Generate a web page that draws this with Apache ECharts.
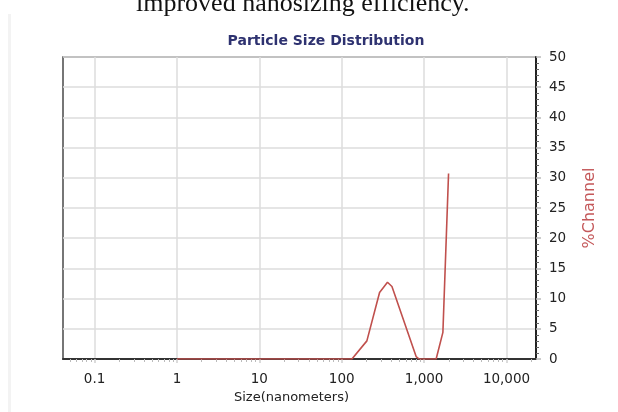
<!DOCTYPE html>
<html>
<head>
<meta charset="utf-8">
<script src="https://cdn.jsdelivr.net/npm/echarts@6/dist/echarts.min.js"></script>
<style>
  html, body { margin: 0; padding: 0; background: #fff; }
  #chart { width: 618px; height: 412px; }
</style>
</head>
<body>
<div id="chart"></div>
<script>
// Particle sizes (nm) and the percentage of particles in each channel
const sizesNm    = [1, 133, 202, 288, 359, 407, 800, 870, 1400, 1690, 1980];
const channelPct = [0, 0,   3.0, 11.0, 12.7, 12.0, 0.4, 0,  0,    4.4,  30.7];

// Decade ticks on the size axis
const tickSizes  = [0.1, 1, 10, 100, 1000, 10000];
const tickLabels = ['0.1', '1', '10', '100', '1,000', '10,000'];

// %Channel axis range
const pctMin = 0, pctMax = 50, pctStep = 5;

// Size axis is drawn in log10 space
const logMin = -1.383, logMax = 4.358;
const tickLogs = tickSizes.map(v => Math.log10(v));
const labelByLog = {};
tickLogs.forEach((l, i) => { labelByLog[l.toFixed(4)] = tickLabels[i]; });

// Minor ticks at 2..9 of every decade inside the visible range
const minorLogs = [];
for (let d = -2; d <= 4; d++) {
  for (let k = 2; k <= 9; k++) {
    const l = Math.log10(k * Math.pow(10, d));
    if (l > logMin && l < logMax) minorLogs.push(l);
  }
}

const points = sizesNm.map((s, i) => [Math.log10(s), channelPct[i]]);

const font = 'DejaVu Sans, Verdana, sans-serif';
const chart = echarts.init(document.getElementById('chart'), null, { renderer: 'canvas' });

chart.setOption({
  backgroundColor: '#fff',
  animation: false,
  title: {
    text: 'Particle Size Distribution',
    left: 321,
    top: 29,
    textAlign: 'center',
    textStyle: { fontFamily: font, fontSize: 14, fontWeight: 'bold', color: '#2e3270' }
  },
  graphic: [
    { type: 'rect', left: 8, top: 14, shape: { width: 3, height: 398 }, style: { fill: '#f3f3f3' }, silent: true },
    {
      type: 'text', left: 136, top: -9,
      style: { text: 'improved nanosizing efficiency.', font: '26px "Liberation Serif", serif', fill: '#111' },
      silent: true
    }
  ],
  grid: {
    left: 63, right: 82, top: 57, bottom: 53,
    show: true, borderColor: '#4a4a4a', borderWidth: 1.5, backgroundColor: '#fff'
  },
  xAxis: [
    {
      type: 'value',
      min: logMin, max: logMax,
      position: 'bottom',
      name: 'Size(nanometers)',
      nameLocation: 'middle',
      nameGap: 29,
      nameTextStyle: { fontFamily: font, fontSize: 13, color: '#222', padding: [0, 16, 0, 0] },
      axisLine: { show: true, onZero: false, lineStyle: { color: '#333', width: 2 } },
      axisTick: { show: true, customValues: tickLogs, length: 4, lineStyle: { color: '#d0d0d0', width: 1.5 } },
      axisLabel: {
        customValues: tickLogs,
        margin: 13,
        fontFamily: font, fontSize: 13.5, color: '#222',
        formatter: v => labelByLog[Number(v).toFixed(4)] || ''
      },
      splitLine: { show: true, lineStyle: { color: '#dcdcdc', width: 1.5 } }
    },
    {
      type: 'value',
      min: logMin, max: logMax,
      position: 'bottom',
      axisLine: { show: false, onZero: false },
      axisTick: { show: true, customValues: minorLogs, length: 3, lineStyle: { color: '#bbb', width: 1 } },
      axisLabel: { show: false },
      splitLine: { show: false }
    }
  ],
  yAxis: {
    type: 'value',
    position: 'right',
    min: pctMin, max: pctMax, interval: pctStep,
    name: '%Channel',
    nameLocation: 'middle',
    nameRotate: 90,
    nameGap: 46,
    nameTextStyle: { fontFamily: font, fontSize: 16, color: '#c4585a' },
    axisLine: { show: true, onZero: false, lineStyle: { color: '#222', width: 2 } },
    axisTick: { show: true, length: 5, lineStyle: { color: '#bbb', width: 1.5 } },
    minorTick: { show: true, splitNumber: 5, length: 3, lineStyle: { color: '#666', width: 1 } },
    axisLabel: { margin: 13, fontFamily: font, fontSize: 13.5, color: '#222' },
    splitLine: { show: true, lineStyle: { color: '#dcdcdc', width: 1.5 } }
  },
  series: [
    {
      type: 'line',
      xAxisIndex: 0,
      data: points,
      symbol: 'none',
      lineStyle: { color: '#c0504d', width: 1.6 },
      z: 5
    }
  ]
});
</script>
</body>
</html>
